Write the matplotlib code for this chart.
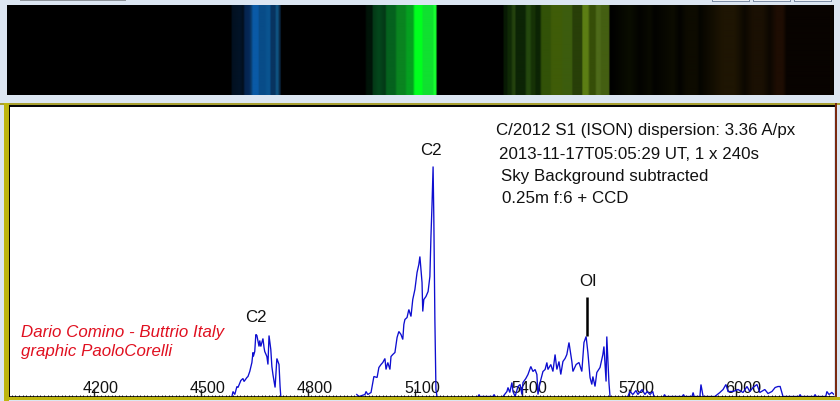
import numpy as np
import matplotlib
matplotlib.use("Agg")
import matplotlib.pyplot as plt
from matplotlib.patches import Rectangle
from matplotlib.transforms import ScaledTranslation

plt.rcParams['font.family'] = ['Liberation Sans', 'DejaVu Sans']

# spectrum values: wavelength (A) and intensity (arbitrary units)
wave_blue = [4587, 4590, 4595, 4601, 4604, 4612, 4618, 4621, 4629, 4632, 4637, 4643, 4646, 4647, 4651,
             4654, 4657, 4663, 4665, 4668, 4674, 4677, 4679, 4685, 4688, 4691, 4696, 4699, 4702, 4708, 4713,
             4719, 4722, 4724]
flux_blue = [0, 5, 2, 10, 9, 16, 18, 15, 19, 20, 25, 34, 44, 40, 45, 62, 61, 50, 56, 50, 58, 49, 45, 40, 32,
             61, 47, 30, 22, 9, 38, 32, 10, 0]
wave_green = [4937, 4943, 4960, 4963, 4968, 4977, 4985, 4994, 4999, 5005, 5010, 5016, 5019, 5024, 5030, 5033,
              5038, 5044, 5050, 5055, 5061, 5066, 5069, 5072, 5078, 5083, 5089, 5094, 5100, 5106, 5111, 5114,
              5120, 5122, 5125, 5131, 5137, 5142, 5145, 5148, 5151, 5153, 5156, 5159, 5162]
flux_green = [2, 0, 2, 5, 2, 4, 20, 19, 29, 32, 34, 38, 27, 34, 27, 40, 42, 44, 59, 65, 62, 57, 72, 77, 79, 87,
              80, 97, 107, 124, 132, 140, 114, 85, 97, 100, 105, 120, 160, 192, 230, 180, 77, 7, 0]
wave_gap = [5277, 5280, 5282, 5319, 5322, 5325]
flux_gap = [0, 2, 0, 0, 2, 0]
wave_oi = [5347, 5358, 5361, 5366, 5372, 5375, 5381, 5389, 5395, 5400, 5403, 5411, 5417, 5425, 5431, 5437, 5442,
           5445, 5451, 5459, 5465, 5470, 5473, 5481, 5487, 5493, 5498, 5504, 5509, 5515, 5521, 5526, 5532, 5540,
           5543, 5552, 5560, 5568, 5574, 5580, 5585, 5591, 5596, 5599, 5605, 5610, 5619, 5627, 5630, 5636, 5638,
           5644, 5647]
flux_oi = [0, 5, 9, 4, 14, 5, 0, 10, 12, 2, 14, 18, 22, 30, 25, 27, 22, 2, 14, 25, 27, 34, 27, 32, 25, 42, 27, 35,
           22, 35, 38, 42, 54, 35, 25, 32, 34, 25, 54, 60, 44, 19, 12, 20, 10, 24, 29, 42, 50, 15, 60, 14, 0]
wave_red = [5697, 5703, 5711, 5720, 5725, 5737, 5745, 5751, 5759, 5767, 5770]
flux_red = [0, 5, 2, 6, 2, 7, 2, 5, 2, 5, 0]
wave_far = [5797, 5800, 5802, 5850, 5853, 5856, 5877, 5880, 5883, 5899, 5902, 5908, 5941, 5955, 5964, 5972, 5978,
            5992, 6006, 6020, 6031, 6039, 6048, 6059, 6067, 6081, 6090, 6101, 6110, 6118, 6124, 6132, 6177, 6180,
            6183, 6219, 6222, 6225, 6252, 6255, 6261, 6269, 6275]
flux_far = [0, 2, 0, 0, 2, 0, 0, 4, 0, 0, 12, 0, 0, 4, 7, 12, 5, 5, 7, 4, 10, 5, 9, 12, 4, 7, 3, 5, 9, 10, 10, 0,
            0, 2, 0, 0, 2, 0, 0, 5, 2, 4, 2]

# spectrum strip colours by wavelength
strip_wave = [3956, 4584, 4587, 4609, 4618, 4623, 4635, 4640, 4646, 4660, 4663, 4679, 4685, 4693, 4696, 4708, 4710,
              4716, 4719, 4722, 4724,
              4960, 4965, 4980, 4982, 4999, 5016, 5021, 5044, 5050, 5072, 5078, 5094, 5100, 5120, 5122, 5151, 5153,
              5159, 5162,
              5347, 5350, 5358, 5361, 5369, 5375, 5381, 5383, 5408, 5414, 5422, 5428, 5437, 5439, 5450, 5456, 5479,
              5484, 5512, 5515, 5540, 5543, 5568, 5571, 5585, 5591, 5605, 5610, 5619, 5624, 5644, 5647,
              5703, 5731, 5759, 5773, 5824, 5843, 5863, 5891, 5899, 5964, 5997, 6025, 6048, 6076, 6096, 6115, 6132,
              6143, 6272, 6275]
strip_hex = ['#000000', '#000000', '#021020', '#021428', '#020e1c', '#05244e', '#062858', '#0a3a68', '#0a5aa6',
             '#0a5aa6', '#084c88', '#084c88', '#0a5490', '#0a5490', '#083460', '#083460', '#0f5280', '#0f5280',
             '#0a2a48', '#0a2a48', '#000000',
             '#000000', '#001408', '#001408', '#043816', '#03481c', '#043816', '#05621e', '#05621e', '#0a8420',
             '#0a8420', '#05a020', '#05a020', '#00ff1e', '#00ff1e', '#10e030', '#10e030', '#18ff30', '#18ff30',
             '#000000',
             '#000000', '#081a04', '#081a04', '#102a06', '#102a06', '#24420e', '#24420e', '#0c2405', '#0c2405',
             '#24480e', '#24480e', '#163206', '#163206', '#0c2404', '#0c2404', '#325208', '#325208', '#3f5c08',
             '#3f5c08', '#3c5c0e', '#3c5c0e', '#283f08', '#283f08', '#5c7e14', '#5c7e14', '#364e08', '#364e08',
             '#4e6a1a', '#4e6a1a', '#445f12', '#445f12', '#000000',
             '#0a0d00', '#030300', '#090a00', '#030300', '#0c0c00', '#030300', '#0d0b00', '#0d0b00', '#050500',
             '#1e1503', '#1e1503', '#0c0801', '#1a1003', '#1a1003', '#0c0701', '#1e0d03', '#1e0d03', '#080300',
             '#080300', '#000000']

tick_values = [4200, 4500, 4800, 5100, 5400, 5700, 6000]
minor_values = list(range(3970, 6270, 10))

W, H = 840, 402
fig = plt.figure(figsize=(W / 100, H / 100), dpi=100, facecolor='#DCE6F2')


def box(x0, y0, x1, y1):
    return [x0 / W, 1 - y1 / H, (x1 - x0) / W, (y1 - y0) / H]


def fill(x0, y0, x1, y1, color):
    b = box(x0, y0, x1, y1)
    fig.add_artist(Rectangle((b[0], b[1]), b[2], b[3], transform=fig.transFigure, fc=color, ec='none'))


# window frame pieces
fill(20, 0, 126, 1.5, '#8f959c')
for a, b2 in [(712, 750), (753, 791), (794, 832)]:
    fill(a, 0, b2, 2.5, '#7f8fa8')
    fill(a + 1, 0, b2 - 1, 1.5, '#eef2f7')
fill(0, 104, 840, 105.5, '#a8a030')
fill(4, 104, 9, 402, '#BDB50F')
fill(4, 397.5, 840, 401, '#BDB50F')
fill(835, 104, 837, 398, '#7a2a10')

# strip
strip = fig.add_axes(box(7, 6, 834, 96))
grid = np.linspace(3956, 6275, 1654)
rgb = np.array([matplotlib.colors.to_rgb(c) for c in strip_hex])
img = np.stack([np.interp(grid, strip_wave, rgb[:, i]) for i in range(3)], axis=1)[None, :, :]
strip.imshow(img, extent=[3956, 6275, 0, 1], aspect='auto', interpolation='bilinear')
strip.axis('off')

# plot
ax = fig.add_axes(box(9, 107, 834, 397.5))
ax.set_xlim(3962, 6275)
ax.set_ylim(0, 290.5)
ax.set_facecolor('white')
for w, f in [(wave_blue, flux_blue), (wave_green, flux_green), (wave_gap, flux_gap),
             (wave_oi, flux_oi), (wave_red, flux_red), (wave_far, flux_far)]:
    ax.plot(w, f, color='#0E0ED0', lw=0.95, solid_joinstyle='miter')
ax.vlines(5582, 61, 100, color='black', lw=1.8)
ax.spines['right'].set_visible(False)
ax.spines['top'].set_color('black')
ax.spines['top'].set_linewidth(1.4)
ax.spines['left'].set_color('black')
ax.spines['left'].set_linewidth(1.4)
ax.spines['bottom'].set_color('black')
ax.spines['bottom'].set_linewidth(1.2)
ax.set_yticks([])
ax.set_xticks(tick_values)
ax.set_xticks(minor_values, minor=True)
ax.tick_params(axis='x', which='major', direction='in', length=6, width=1, color='#222222', pad=-11.6,
               labelsize=11.6, labelcolor='#111111')
ax.tick_params(axis='x', which='minor', direction='in', length=1.5, width=0.7, color='#222222')
offset = ScaledTranslation(7 / 100, 0, fig.dpi_scale_trans)
for lab in ax.get_xticklabels():
    lab.set_transform(lab.get_transform() + offset)

fs = 12.15
ax.text(4655, 80, 'C2', fontsize=fs, ha='center', va='center', color='#111111')
ax.text(5144, 247, 'C2', fontsize=fs, ha='center', va='center', color='#111111')
ax.text(5586, 116, 'OI', fontsize=fs, ha='center', va='center', color='#111111')
ax.text(5327, 266.5, 'C/2012 S1 (ISON) dispersion: 3.36 A/px', fontsize=fs, va='center', color='#111111')
ax.text(5336, 242.5, '2013-11-17T05:05:29 UT, 1 x 240s', fontsize=fs, va='center', color='#111111')
ax.text(5341, 221, 'Sky Background subtracted', fontsize=fs, va='center', color='#111111')
ax.text(5344, 199, '0.25m f:6 + CCD', fontsize=fs, va='center', color='#111111')
ax.text(3996, 65, 'Dario Comino - Buttrio Italy', fontsize=fs, style='italic', va='center', color='#E01020')
ax.text(3996, 46, 'graphic PaoloCorelli', fontsize=fs, style='italic', va='center', color='#E01020')

fig.savefig('out.png', dpi=100, facecolor=fig.get_facecolor())
